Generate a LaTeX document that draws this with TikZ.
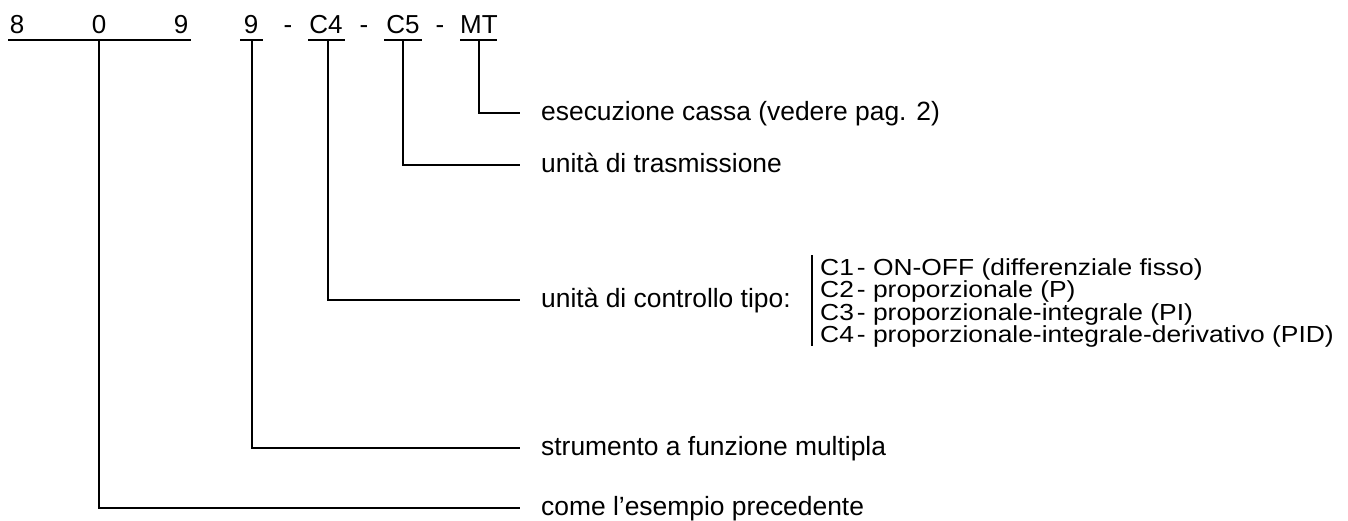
\documentclass[tikz,border=0pt]{standalone}
\usepackage{fontspec}
\usepackage{graphicx}
\setmainfont{Liberation Sans}
\newcommand{\flatrow}[1]{\scalebox{1}[0.88]{#1}}
\begin{document}
\begin{tikzpicture}[x=1pt,y=-1pt]
\tikzset{
  hdr/.style={font=\fontsize{26}{31}\selectfont, inner sep=0pt, anchor=base},
  lbl/.style={font=\fontsize{26.4}{31}\selectfont, inner sep=0pt, anchor=west, text height=19pt, text depth=5pt},
  row/.style={font=\fontsize{26.4}{31}\selectfont, inner sep=0pt, anchor=base west},
  ln/.style={line width=1.3pt, line cap=butt}
}
\useasboundingbox[fill=white] (0,0) rectangle (1348,520);
% header
\node[hdr] (d8) at (17,33) {8};
\node[hdr] (d0) at (99,33) {0};
\node[hdr] (d9) at (181,33) {9};
\node[hdr] (n9) at (251,33) {9};
\node[hdr] (h1) at (288,33) {-};
\node[hdr] (c4) at (326,33) {C4};
\node[hdr] (h2) at (364,33) {-};
\node[hdr] (c5) at (403,33) {C5};
\node[hdr] (h3) at (440,33) {-};
\node[hdr] (mt) at (479,33) {MT};
% underlines
\coordinate (uA) at (8,40);   \coordinate (uB) at (191,40);
\coordinate (u9a) at (240,40); \coordinate (u9b) at (263,40);
\coordinate (uc4a) at (308,40); \coordinate (uc4b) at (345,40);
\coordinate (uc5a) at (384,40); \coordinate (uc5b) at (422,40);
\coordinate (umta) at (460,40); \coordinate (umtb) at (497,40);
\draw[ln] (uA) -- (uB);
\draw[ln] (u9a) -- (u9b);
\draw[ln] (uc4a) -- (uc4b);
\draw[ln] (uc5a) -- (uc5b);
\draw[ln] (umta) -- (umtb);
% stems
\coordinate (s0) at (99,40);
\coordinate (s9) at (252,40);
\coordinate (sc4) at (328,40);
\coordinate (sc5) at (403,40);
\coordinate (smt) at (479,40);
% labels
\node[lbl] (lmt) at (541,113) {esecuzione cassa (vedere pag. 2)};
\node[lbl] (lc5) at (541,165) {unità di trasmissione};
\node[lbl] (lc4) at (541,300) {unità di controllo tipo:};
\node[lbl] (l9) at (541,448) {strumento a funzione multipla};
\node[lbl] (l0) at (541,508) {come l’esempio precedente};
\draw[ln] (smt) |- ([xshift=-21pt]lmt.west);
\draw[ln] (sc5) |- ([xshift=-21pt]lc5.west);
\draw[ln] (sc4) |- ([xshift=-21pt]lc4.west);
\draw[ln] (s9) |- ([xshift=-21pt]l9.west);
\draw[ln] (s0) |- ([xshift=-21pt]l0.west);
% list
\coordinate (bt) at (812,255);
\coordinate (bb) at (812,346);
\draw[line width=1.1pt] (bt) -- (bb);
\node[row] (r1) at (820,275) {\flatrow{C1\hspace{3pt}- ON-OFF (differenziale fisso)}};
\node[row] (r2) at (820,297.5) {\flatrow{C2\hspace{3pt}- proporzionale (P)}};
\node[row] (r3) at (820,320) {\flatrow{C3\hspace{3pt}- proporzionale-integrale (PI)}};
\node[row] (r4) at (820,342.5) {\flatrow{C4\hspace{3pt}- proporzionale-integrale-derivativo (PID)}};
\end{tikzpicture}
\end{document}
